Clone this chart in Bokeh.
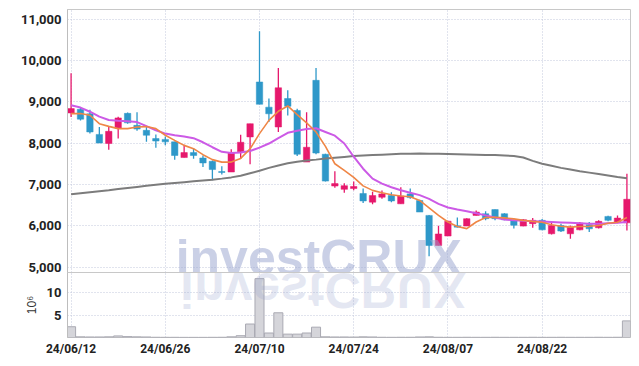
import pandas as pd
from bokeh.plotting import figure
from bokeh.layouts import column
from bokeh.models import ColumnDataSource, Range1d, FixedTicker, Label, Div, NumeralTickFormatter
from bokeh.embed import file_html
from bokeh.resources import INLINE

# ---------------- data ----------------
dates = [
    "2024-06-12", "2024-06-13", "2024-06-14", "2024-06-17", "2024-06-18", "2024-06-19", "2024-06-20",
    "2024-06-21", "2024-06-24", "2024-06-25", "2024-06-26", "2024-06-27", "2024-06-28",
    "2024-07-01", "2024-07-02", "2024-07-03", "2024-07-04", "2024-07-05", "2024-07-08", "2024-07-09",
    "2024-07-10", "2024-07-11", "2024-07-12", "2024-07-15", "2024-07-16", "2024-07-17", "2024-07-18",
    "2024-07-19", "2024-07-22", "2024-07-23", "2024-07-24", "2024-07-25", "2024-07-26", "2024-07-29",
    "2024-07-30", "2024-07-31", "2024-08-01", "2024-08-02", "2024-08-05", "2024-08-06", "2024-08-07",
    "2024-08-08", "2024-08-09", "2024-08-12", "2024-08-13", "2024-08-14", "2024-08-16", "2024-08-19",
    "2024-08-20", "2024-08-21", "2024-08-22", "2024-08-23", "2024-08-26", "2024-08-27", "2024-08-28",
    "2024-08-29", "2024-08-30", "2024-09-02", "2024-09-03", "2024-09-04",
]
opens = [8730, 8820, 8710, 8210, 7990, 8360, 8720, 8430, 8310, 8110,
         8090, 8030, 7650, 7770, 7640, 7560, 7310, 7300, 7790, 8150,
         9480, 8870, 8390, 9080, 8790, 7540, 9520, 7730, 6960, 6880,
         6900, 6780, 6570, 6690, 6730, 6530, 6770, 6610, 6250, 5520,
         5750, 6000, 5990, 6250, 6290, 6390, 6290, 6130, 5990, 6050,
         6130, 5805, 6005, 5805, 5900, 6025, 5950, 6225, 6085, 6070]
highs = [9690, 8870, 8810, 8390, 8400, 8640, 8740, 8750, 8390, 8210,
         8160, 8030, 7960, 7870, 7700, 7580, 7440, 7850, 8200, 8470,
         10710, 9080, 9820, 9280, 8830, 8750, 9820, 7740, 7320, 7030,
         7070, 6900, 6820, 6850, 6810, 6930, 6900, 6630, 6260, 6000,
         6120, 6200, 6180, 6370, 6350, 6390, 6300, 6145, 6160, 6185,
         6160, 6090, 6050, 6005, 6090, 6090, 6130, 6240, 6250, 7260]
lows = [8630, 8550, 8230, 8000, 7840, 8110, 8470, 8300, 8030, 7890,
        7950, 7600, 7650, 7620, 7420, 7100, 7240, 7300, 7620, 7490,
        8940, 8510, 8270, 8670, 7690, 7540, 7730, 7070, 6920, 6800,
        6860, 6550, 6520, 6650, 6570, 6530, 6650, 6330, 5260, 5520,
        5750, 5955, 5990, 6250, 6130, 6130, 6130, 5930, 5985, 5950,
        5890, 5790, 5850, 5685, 5890, 5845, 5930, 6110, 6060, 5885]
closes = [8835, 8580, 8270, 8000, 8285, 8610, 8490, 8340, 8190, 8050,
          8030, 7700, 7770, 7700, 7520, 7360, 7290, 7770, 8020, 8470,
          8940, 8710, 9340, 8890, 7730, 7900, 7760, 7080, 7020, 6970,
          6950, 6600, 6730, 6770, 6600, 6720, 6680, 6330, 5520, 5800,
          6110, 5965, 6170, 6330, 6170, 6170, 6145, 6010, 6145, 6130,
          5900, 6005, 5870, 5965, 6065, 5925, 6105, 6130, 6185, 6640]
ma_short = [8715, 8715, 8675, 8470, 8405, 8350, 8350, 8390, 8400, 8350,
            8190, 8065, 7945, 7865, 7720, 7600, 7540, 7540, 7630, 7860,
            8230, 8550, 8770, 8900, 8690, 8490, 8270, 7920, 7500, 7340,
            7170, 6965, 6855, 6800, 6750, 6720, 6700, 6612, 6430, 6250,
            6090, 5980, 5930, 6090, 6200, 6205, 6190, 6165, 6130, 6105,
            6085, 6025, 5985, 5965, 5980, 5985, 6005, 6060, 6085, 6200]
ma_mid = [8915, 8860, 8760, 8640, 8560, 8540, 8530, 8510, 8410, 8310,
          8230, 8190, 8160, 8120, 8020, 7900, 7790, 7760, 7770, 7810,
          7890, 7990, 8120, 8250, 8300, 8340, 8360, 8270, 8180, 7990,
          7670, 7380, 7140, 7020, 6930, 6860, 6800, 6740, 6650, 6530,
          6440, 6390, 6350, 6300, 6250, 6200, 6150, 6130, 6120, 6110,
          6100, 6090, 6080, 6070, 6060, 6050, 6050, 6060, 6070, 6090]
ma_long = [6760, 6785, 6810, 6835, 6860, 6890, 6915, 6940, 6965, 6990,
           7015, 7035, 7055, 7075, 7095, 7115, 7140, 7170, 7210, 7270,
           7330, 7400, 7460, 7510, 7550, 7580, 7600, 7625, 7645, 7665,
           7685, 7700, 7710, 7720, 7730, 7740, 7745, 7750, 7745, 7740,
           7735, 7730, 7725, 7720, 7715, 7710, 7700, 7690, 7650, 7570,
           7500, 7450, 7400, 7360, 7320, 7285, 7250, 7215, 7180, 7150]
volume_millions = [2.4, 0.15, 0.12, 0.12, 0.15, 0.35, 0.2, 0.15, 0.12, 0.05,
                   0.04, 0.04, 0.03, 0.03, 0.03, 0.04, 0.05, 0.15, 0.4, 3.0,
                   13.1, 1.0, 5.5, 0.75, 0.75, 1.0, 2.3, 0.15, 0.12, 0.12,
                   0.1, 0.15, 0.12, 0.05, 0.04, 0.05, 0.05, 0.12, 0.15, 0.05,
                   0.04, 0.04, 0.05, 0.04, 0.04, 0.05, 0.04, 0.04, 0.04, 0.05,
                   0.04, 0.04, 0.05, 0.04, 0.04, 0.04, 0.05, 0.04, 0.05, 3.7]
tick_dates = ["2024-06-12", "2024-06-26", "2024-07-10", "2024-07-24", "2024-08-07", "2024-08-22"]
price_ticks = [5000, 6000, 7000, 8000, 9000, 10000, 11000]
volume_ticks = [5, 10]

UP = "#e6186c"
DOWN = "#2e98c9"
GRID = "#c3c8dc"
FONT = "Roboto"
OVERLAP = 16  # px of the price canvas that sit under the volume panel

idx = list(range(len(dates)))
colors = [UP if c >= o else DOWN for o, c in zip(opens, closes)]
src = ColumnDataSource(dict(
    idx=idx, open=opens, high=highs, low=lows, close=closes, color=colors,
    top=[max(o, c) for o, c in zip(opens, closes)],
    bottom=[min(o, c) for o, c in zip(opens, closes)],
    ma5=ma_short, ma20=ma_mid, ma60=ma_long, vol=volume_millions,
))
tick_pos = [dates.index(d) for d in tick_dates]
tick_labels = {p: pd.Timestamp(d).strftime("%y/%m/%d") for p, d in zip(tick_pos, tick_dates)}

# ---------------- price panel ----------------
main = figure(width=631, height=272 + OVERLAP, x_range=Range1d(-0.38, 59.38), y_range=Range1d(4867, 11235),
              x_axis_location=None, output_backend="svg", toolbar_location=None,
              min_border_left=67, min_border_right=1, min_border_top=9, min_border_bottom=OVERLAP)
main.segment(x0="idx", y0="high", x1="idx", y1="low", color="color", line_width=1.3, source=src)
main.vbar(x="idx", top="top", bottom="bottom", width=0.68, fill_color="color", line_color="color",
          line_width=0.5, source=src)
main.line(x="idx", y="ma60", color="#7c7c7c", line_width=2, source=src)
main.line(x="idx", y="ma20", color="#cc5ae6", line_width=2, source=src)
main.line(x="idx", y="ma5", color="#ef8646", line_width=1.6, source=src)

main.yaxis.ticker = FixedTicker(ticks=price_ticks)
main.yaxis.formatter = NumeralTickFormatter(format="0,0")
main.xgrid.ticker = FixedTicker(ticks=tick_pos)

main.add_layout(Label(x=11.1, y=5215, text="investCRUX", text_font="Liberation Sans",
                      text_font_style="bold", text_font_size="50px", text_color="#96a2cd",
                      text_alpha=0.5, text_baseline="alphabetic"))

# ---------------- volume panel ----------------
vol = figure(width=631, height=92, x_range=main.x_range, y_range=Range1d(0, 14.47),
             output_backend="svg", toolbar_location=None,
             min_border_left=67, min_border_right=1, min_border_top=0, min_border_bottom=27,
             styles={"margin-top": "-%dpx" % OVERLAP})
vol.vbar(x="idx", top="vol", bottom=0, width=0.96, fill_color="#d5d5da", line_color="#a9a9b2",
         line_width=1, source=src)
vol.yaxis.ticker = FixedTicker(ticks=volume_ticks)
vol.yaxis.axis_label = "10\u2076"
vol.yaxis.axis_label_text_font = "Liberation Sans"
vol.yaxis.axis_label_text_font_style = "normal"
vol.yaxis.axis_label_text_font_size = "12px"
vol.yaxis.axis_label_text_color = "#333333"
vol.yaxis.axis_label_standoff = 5
vol.xaxis.ticker = FixedTicker(ticks=tick_pos)
vol.xaxis.major_label_overrides = tick_labels
vol.xaxis.major_label_standoff = 4
vol.xaxis.axis_line_color = None
vol.xaxis.major_tick_line_color = None
vol.xaxis.minor_tick_line_color = None
vol.xaxis.major_tick_out = 0
vol.xaxis.major_tick_in = 0
vol.xaxis.major_label_text_font_size = "12px"
vol.border_fill_alpha = 0

for f in (main, vol):
    f.outline_line_color = "#c8c8c8"
    f.background_fill_color = "white"
    for g in (f.xgrid, f.ygrid):
        g.grid_line_color = GRID
        g.grid_line_dash = "1 2"
        g.grid_line_width = 1
    for ax in (f.xaxis, f.yaxis):
        ax.major_label_text_font = FONT
        ax.major_label_text_font_style = "bold"
        ax.major_label_text_color = "#222222"
    f.yaxis.major_label_text_font_size = "13px"
    f.yaxis.axis_line_color = "#bdbdbd"
    f.yaxis.major_tick_line_color = None
    f.yaxis.minor_tick_line_color = None
    f.yaxis.major_tick_out = 0
    f.yaxis.major_tick_in = 0
    f.yaxis.major_label_standoff = 6

reflection = Div(
    text=('<div style="font:bold 50px \'Liberation Sans\';line-height:50px;'
          'color:rgba(150,162,205,0.25);transform:scaleY(-1);white-space:nowrap;">investCRUX</div>'),
    styles={"position": "absolute", "left": "175px", "top": "260px", "pointer-events": "none"},
    width=300, height=50)

layout = column(main, vol, reflection)

open("out.html", "w").write(file_html(layout, INLINE))
